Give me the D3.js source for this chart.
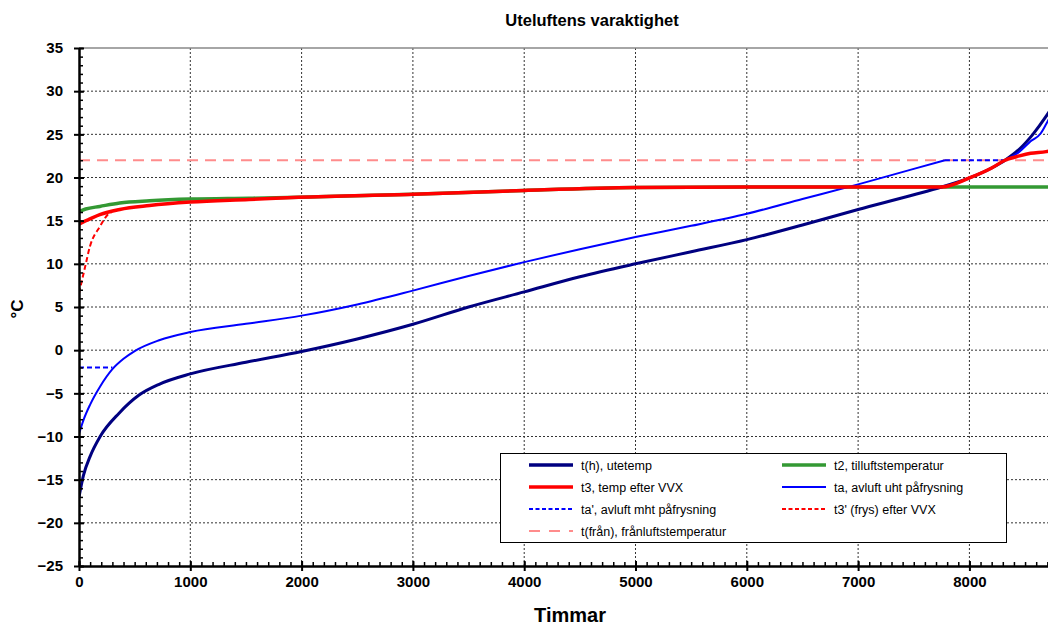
<!DOCTYPE html>
<html>
<head>
<meta charset="utf-8">
<script src="https://cdn.jsdelivr.net/npm/d3@7"></script>
<style>
  body{margin:0;background:#fff;}
  svg text{font-family:"Liberation Sans",Arial,sans-serif;}
  .lbl text{font-weight:bold;font-size:15px;fill:#000;}
</style>
</head>
<body>
<script>
// x in hours (Timmar), y in °C
const xTicks=[0,1000,2000,3000,4000,5000,6000,7000,8000]
const yTicks=[-25,-20,-15,-10,-5,0,5,10,15,20,25,30,35]

// t(h), utetemp
const tH=[[0,-17],[40,-14.5],[100,-12.3],[190,-10],[360,-7.3],[540,-5.2],[720,-3.95],[1000,-2.75],[1500,-1.4],[2000,-0.15],[2500,1.3],[3000,3.0],[3500,5.0],[4000,6.75],[4500,8.5],[5000,10.0],[5500,11.4],[6000,12.8],[6500,14.5],[7000,16.3],[7500,18.0],[7750,18.9],[8000,19.95],[8200,21.1],[8320,22.0],[8450,23.3],[8570,25.0],[8690,27.1],[8760,28.5]]
// t2, tilluftstemperatur
const t2=[[0,16.05],[60,16.35],[187,16.65],[366,17.05],[634,17.3],[1000,17.5],[1527,17.6],[1973,17.7],[3000,18.05],[4000,18.5],[5000,18.83],[6000,18.9],[7750,18.9],[8760,18.9]]
// t3, temp efter VVX
const t3=[[0,14.6],[98,15.2],[187,15.7],[366,16.3],[634,16.75],[1000,17.15],[1527,17.45],[1973,17.7],[3000,18.05],[4000,18.5],[5000,18.83],[6000,18.9],[7000,18.9],[7750,18.9],[8000,19.95],[8200,21.1],[8320,22.0],[8450,22.5],[8550,22.8],[8690,23.0],[8760,23.2]]
// ta, avluft uht påfrysning (two pieces)
const taA=[[0,-9.7],[40,-8.1],[100,-6.3],[190,-4.2],[300,-2.2],[400,-1.0],[500,-0.1],[720,1.15],[1000,2.1],[1500,3.05],[2000,4.0],[2500,5.3],[3000,6.9],[3500,8.6],[4000,10.2],[4500,11.7],[5000,13.1],[5500,14.4],[6000,15.8],[6500,17.5],[7000,19.2],[7500,21.0],[7780,22.0]]
const taB=[[8320,22.0],[8450,23.0],[8550,24.2],[8640,25.1],[8690,26.2],[8760,28]]
// ta', avluft mht påfrysning
const taP1=[[0,-2],[300,-2]]
const taP2=[[7780,22],[8320,22]]
// t3' (frys) efter VVX
const t3P=[[0,6.6],[54,9.6],[98,12.0],[187,14.3],[277,15.9],[297,16.0]]
// t(från), frånluftstemperatur
const tFran=[[0,22],[8760,22]]

const W=1048,H=626
const mLeft=79,mTop=48,mBottom=566,mRight=1054

const svg=d3.select("body").append("svg").attr("width",W).attr("height",H)

const x=d3.scaleLinear().domain([0,8760]).range([mLeft,mRight])
const y=d3.scaleLinear().domain([-25,35]).range([mBottom,mTop])

svg.append("defs").append("clipPath").attr("id","plot")
  .append("rect").attr("x",mLeft).attr("y",mTop).attr("width",mRight-mLeft).attr("height",mBottom-mTop)

// grid
svg.append("g").selectAll("line").data(yTicks.filter(d=>d>-25&&d<35)).enter().append("line")
  .attr("x1",mLeft).attr("x2",mRight).attr("y1",d=>y(d)).attr("y2",d=>y(d))
  .attr("stroke","#333").attr("stroke-dasharray","2,2")
svg.append("g").selectAll("line").data(xTicks.filter(d=>d>0)).enter().append("line")
  .attr("y1",mTop).attr("y2",mBottom).attr("x1",d=>x(d)).attr("x2",d=>x(d))
  .attr("stroke","#333").attr("stroke-dasharray","2,2")
svg.append("line").attr("x1",mLeft).attr("x2",mRight).attr("y1",y(35)).attr("y2",y(35))
  .attr("stroke","#888").attr("stroke-width",1.5)

// series
const line=d3.line().x(d=>x(d[0])).y(d=>y(d[1])).curve(d3.curveMonotoneX)
const series=[
  {d:tFran,c:"#ff8c8c",w:2,dash:"11,7"},
  {d:t2,c:"#339933",w:3.5},
  {d:tH,c:"#000080",w:3},
  {d:taA,c:"#0000ff",w:2},
  {d:taB,c:"#0000ff",w:2},
  {d:taP1,c:"#0000ff",w:2,dash:"5,3"},
  {d:taP2,c:"#0000ff",w:2,dash:"5,3"},
  {d:t3,c:"#ff0000",w:3.5},
  {d:t3P,c:"#ff0000",w:2,dash:"5,3"}
]
const g=svg.append("g").attr("clip-path","url(#plot)")
g.selectAll("path").data(series).enter().append("path")
  .attr("d",s=>line(s.d)).attr("fill","none")
  .attr("stroke",s=>s.c).attr("stroke-width",s=>s.w)
  .attr("stroke-dasharray",s=>s.dash||null)

// axes
const yMinor=d3.range(-25,36,1)
const xMinor=d3.range(0,8761,100)
svg.append("g").attr("transform","translate("+mLeft+",0)")
  .call(d3.axisRight(y).tickValues(yMinor).tickSize(4).tickFormat(""))
  .call(a=>a.select(".domain").remove())
svg.append("g").attr("transform","translate(0,"+mBottom+")")
  .call(d3.axisTop(x).tickValues(xMinor).tickSize(4).tickFormat(""))
  .call(a=>a.select(".domain").remove())
svg.selectAll(".tick line").attr("stroke","#000").attr("stroke-width",1.5)

const yAxis=svg.append("g").attr("class","lbl").attr("transform","translate("+mLeft+",0)")
  .call(d3.axisLeft(y).tickValues(yTicks).tickSize(5).tickPadding(11).tickSizeOuter(0))
const xAxis=svg.append("g").attr("class","lbl").attr("transform","translate(0,"+mBottom+")")
  .call(d3.axisBottom(x).tickValues(xTicks).tickFormat(d3.format("d")).tickSize(5).tickPadding(5).tickSizeOuter(0))
yAxis.selectAll("line").attr("stroke-width",2).attr("x2",-5).attr("x1",5)
xAxis.selectAll("line").attr("stroke-width",2).attr("y1",-5)
yAxis.select(".domain").attr("stroke-width",2.5)
xAxis.select(".domain").attr("stroke-width",2.5)
yAxis.selectAll("text").attr("font-family","Liberation Sans")
xAxis.selectAll("text").attr("font-family","Liberation Sans")

// titles
svg.append("text").attr("x",592).attr("y",26).attr("text-anchor","middle")
  .attr("font-weight","bold").attr("font-size",16.5).text("Uteluftens varaktighet")
svg.append("text").attr("transform","translate(23,309) rotate(-90)").attr("text-anchor","middle")
  .attr("font-weight","bold").attr("font-size",17).text("°C")
svg.append("text").attr("x",570).attr("y",622).attr("text-anchor","middle")
  .attr("font-weight","bold").attr("font-size",20).text("Timmar")

// legend
const legendItems=[
  {t:"t(h), utetemp",c:"#000080",w:3.5},
  {t:"t2, tilluftstemperatur",c:"#339933",w:3.5},
  {t:"t3, temp efter VVX",c:"#ff0000",w:3.5},
  {t:"ta, avluft uht påfrysning",c:"#0000ff",w:2},
  {t:"ta', avluft mht påfrysning",c:"#0000ff",w:2,dash:"4,2.5"},
  {t:"t3' (frys) efter VVX",c:"#ff0000",w:2,dash:"4,2.5"},
  {t:"t(från), frånluftstemperatur",c:"#ff8c8c",w:2,dash:"11,9"}
]
const lg=svg.append("g")
lg.append("rect").attr("x",500.5).attr("y",453.5).attr("width",506).attr("height",89)
  .attr("fill","#fff").attr("stroke","#000")
const it=lg.selectAll("g").data(legendItems).enter().append("g")
  .attr("transform",(d,i)=>"translate("+(i%2?782:529)+","+(465+Math.floor(i/2)*22)+")")
it.append("line").attr("x1",0).attr("x2",44).attr("stroke",d=>d.c)
  .attr("stroke-width",d=>d.w).attr("stroke-dasharray",d=>d.dash||null)
it.append("text").attr("x",52).attr("y",4.5).attr("font-size",12.5).text(d=>d.t)
</script>
</body>
</html>
